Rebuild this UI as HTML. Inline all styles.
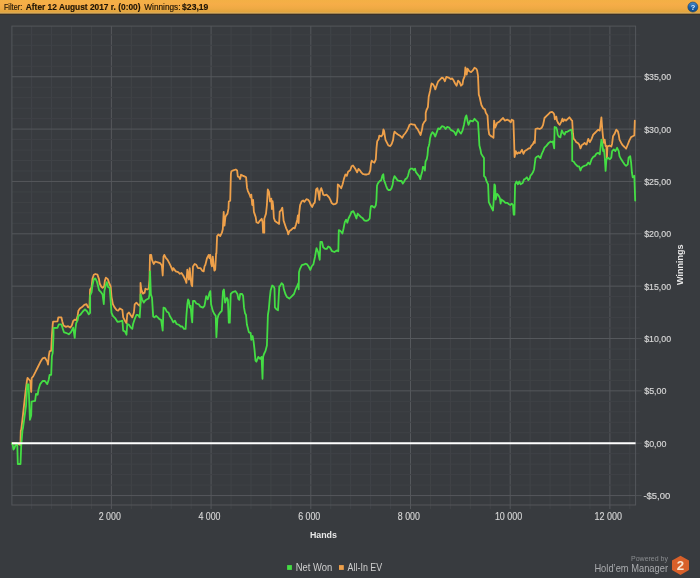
<!DOCTYPE html>
<html><head><meta charset="utf-8"><title>Winnings graph</title>
<style>html,body{margin:0;padding:0;background:#383b3f;width:700px;height:578px;overflow:hidden}svg{display:block}</style>
</head><body>
<svg width="700" height="578" viewBox="0 0 700 578"><rect x="0" y="0" width="700" height="578" fill="#383b3f"/>
<line x1="31.64" y1="26.1" x2="31.64" y2="505.0" stroke="#414448" stroke-width="1"/>
<line x1="51.58" y1="26.1" x2="51.58" y2="505.0" stroke="#414448" stroke-width="1"/>
<line x1="71.52" y1="26.1" x2="71.52" y2="505.0" stroke="#414448" stroke-width="1"/>
<line x1="91.46" y1="26.1" x2="91.46" y2="505.0" stroke="#414448" stroke-width="1"/>
<line x1="111.40" y1="26.1" x2="111.40" y2="505.0" stroke="#55585c" stroke-width="1"/>
<line x1="131.34" y1="26.1" x2="131.34" y2="505.0" stroke="#414448" stroke-width="1"/>
<line x1="151.28" y1="26.1" x2="151.28" y2="505.0" stroke="#414448" stroke-width="1"/>
<line x1="171.22" y1="26.1" x2="171.22" y2="505.0" stroke="#414448" stroke-width="1"/>
<line x1="191.16" y1="26.1" x2="191.16" y2="505.0" stroke="#414448" stroke-width="1"/>
<line x1="211.10" y1="26.1" x2="211.10" y2="505.0" stroke="#55585c" stroke-width="1"/>
<line x1="231.04" y1="26.1" x2="231.04" y2="505.0" stroke="#414448" stroke-width="1"/>
<line x1="250.98" y1="26.1" x2="250.98" y2="505.0" stroke="#414448" stroke-width="1"/>
<line x1="270.92" y1="26.1" x2="270.92" y2="505.0" stroke="#414448" stroke-width="1"/>
<line x1="290.86" y1="26.1" x2="290.86" y2="505.0" stroke="#414448" stroke-width="1"/>
<line x1="310.80" y1="26.1" x2="310.80" y2="505.0" stroke="#55585c" stroke-width="1"/>
<line x1="330.74" y1="26.1" x2="330.74" y2="505.0" stroke="#414448" stroke-width="1"/>
<line x1="350.68" y1="26.1" x2="350.68" y2="505.0" stroke="#414448" stroke-width="1"/>
<line x1="370.62" y1="26.1" x2="370.62" y2="505.0" stroke="#414448" stroke-width="1"/>
<line x1="390.56" y1="26.1" x2="390.56" y2="505.0" stroke="#414448" stroke-width="1"/>
<line x1="410.50" y1="26.1" x2="410.50" y2="505.0" stroke="#55585c" stroke-width="1"/>
<line x1="430.44" y1="26.1" x2="430.44" y2="505.0" stroke="#414448" stroke-width="1"/>
<line x1="450.38" y1="26.1" x2="450.38" y2="505.0" stroke="#414448" stroke-width="1"/>
<line x1="470.32" y1="26.1" x2="470.32" y2="505.0" stroke="#414448" stroke-width="1"/>
<line x1="490.26" y1="26.1" x2="490.26" y2="505.0" stroke="#414448" stroke-width="1"/>
<line x1="510.20" y1="26.1" x2="510.20" y2="505.0" stroke="#55585c" stroke-width="1"/>
<line x1="530.14" y1="26.1" x2="530.14" y2="505.0" stroke="#414448" stroke-width="1"/>
<line x1="550.08" y1="26.1" x2="550.08" y2="505.0" stroke="#414448" stroke-width="1"/>
<line x1="570.02" y1="26.1" x2="570.02" y2="505.0" stroke="#414448" stroke-width="1"/>
<line x1="589.96" y1="26.1" x2="589.96" y2="505.0" stroke="#414448" stroke-width="1"/>
<line x1="609.90" y1="26.1" x2="609.90" y2="505.0" stroke="#55585c" stroke-width="1"/>
<line x1="629.84" y1="26.1" x2="629.84" y2="505.0" stroke="#414448" stroke-width="1"/>
<line x1="11.9" y1="495.55" x2="635.6" y2="495.55" stroke="#55585c" stroke-width="1"/>
<line x1="11.9" y1="485.08" x2="635.6" y2="485.08" stroke="#3f4246" stroke-width="1"/>
<line x1="11.9" y1="474.61" x2="635.6" y2="474.61" stroke="#3f4246" stroke-width="1"/>
<line x1="11.9" y1="464.14" x2="635.6" y2="464.14" stroke="#3f4246" stroke-width="1"/>
<line x1="11.9" y1="453.67" x2="635.6" y2="453.67" stroke="#3f4246" stroke-width="1"/>
<line x1="11.9" y1="443.20" x2="635.6" y2="443.20" stroke="#55585c" stroke-width="1"/>
<line x1="11.9" y1="432.73" x2="635.6" y2="432.73" stroke="#3f4246" stroke-width="1"/>
<line x1="11.9" y1="422.26" x2="635.6" y2="422.26" stroke="#3f4246" stroke-width="1"/>
<line x1="11.9" y1="411.79" x2="635.6" y2="411.79" stroke="#3f4246" stroke-width="1"/>
<line x1="11.9" y1="401.32" x2="635.6" y2="401.32" stroke="#3f4246" stroke-width="1"/>
<line x1="11.9" y1="390.85" x2="635.6" y2="390.85" stroke="#55585c" stroke-width="1"/>
<line x1="11.9" y1="380.38" x2="635.6" y2="380.38" stroke="#3f4246" stroke-width="1"/>
<line x1="11.9" y1="369.91" x2="635.6" y2="369.91" stroke="#3f4246" stroke-width="1"/>
<line x1="11.9" y1="359.44" x2="635.6" y2="359.44" stroke="#3f4246" stroke-width="1"/>
<line x1="11.9" y1="348.97" x2="635.6" y2="348.97" stroke="#3f4246" stroke-width="1"/>
<line x1="11.9" y1="338.50" x2="635.6" y2="338.50" stroke="#55585c" stroke-width="1"/>
<line x1="11.9" y1="328.03" x2="635.6" y2="328.03" stroke="#3f4246" stroke-width="1"/>
<line x1="11.9" y1="317.56" x2="635.6" y2="317.56" stroke="#3f4246" stroke-width="1"/>
<line x1="11.9" y1="307.09" x2="635.6" y2="307.09" stroke="#3f4246" stroke-width="1"/>
<line x1="11.9" y1="296.62" x2="635.6" y2="296.62" stroke="#3f4246" stroke-width="1"/>
<line x1="11.9" y1="286.15" x2="635.6" y2="286.15" stroke="#55585c" stroke-width="1"/>
<line x1="11.9" y1="275.68" x2="635.6" y2="275.68" stroke="#3f4246" stroke-width="1"/>
<line x1="11.9" y1="265.21" x2="635.6" y2="265.21" stroke="#3f4246" stroke-width="1"/>
<line x1="11.9" y1="254.74" x2="635.6" y2="254.74" stroke="#3f4246" stroke-width="1"/>
<line x1="11.9" y1="244.27" x2="635.6" y2="244.27" stroke="#3f4246" stroke-width="1"/>
<line x1="11.9" y1="233.80" x2="635.6" y2="233.80" stroke="#55585c" stroke-width="1"/>
<line x1="11.9" y1="223.33" x2="635.6" y2="223.33" stroke="#3f4246" stroke-width="1"/>
<line x1="11.9" y1="212.86" x2="635.6" y2="212.86" stroke="#3f4246" stroke-width="1"/>
<line x1="11.9" y1="202.39" x2="635.6" y2="202.39" stroke="#3f4246" stroke-width="1"/>
<line x1="11.9" y1="191.92" x2="635.6" y2="191.92" stroke="#3f4246" stroke-width="1"/>
<line x1="11.9" y1="181.45" x2="635.6" y2="181.45" stroke="#55585c" stroke-width="1"/>
<line x1="11.9" y1="170.98" x2="635.6" y2="170.98" stroke="#3f4246" stroke-width="1"/>
<line x1="11.9" y1="160.51" x2="635.6" y2="160.51" stroke="#3f4246" stroke-width="1"/>
<line x1="11.9" y1="150.04" x2="635.6" y2="150.04" stroke="#3f4246" stroke-width="1"/>
<line x1="11.9" y1="139.57" x2="635.6" y2="139.57" stroke="#3f4246" stroke-width="1"/>
<line x1="11.9" y1="129.10" x2="635.6" y2="129.10" stroke="#55585c" stroke-width="1"/>
<line x1="11.9" y1="118.63" x2="635.6" y2="118.63" stroke="#3f4246" stroke-width="1"/>
<line x1="11.9" y1="108.16" x2="635.6" y2="108.16" stroke="#3f4246" stroke-width="1"/>
<line x1="11.9" y1="97.69" x2="635.6" y2="97.69" stroke="#3f4246" stroke-width="1"/>
<line x1="11.9" y1="87.22" x2="635.6" y2="87.22" stroke="#3f4246" stroke-width="1"/>
<line x1="11.9" y1="76.75" x2="635.6" y2="76.75" stroke="#55585c" stroke-width="1"/>
<line x1="11.9" y1="66.28" x2="635.6" y2="66.28" stroke="#3f4246" stroke-width="1"/>
<line x1="11.9" y1="55.81" x2="635.6" y2="55.81" stroke="#3f4246" stroke-width="1"/>
<line x1="11.9" y1="45.34" x2="635.6" y2="45.34" stroke="#3f4246" stroke-width="1"/>
<line x1="11.9" y1="34.87" x2="635.6" y2="34.87" stroke="#3f4246" stroke-width="1"/>
<line x1="31.64" y1="505.0" x2="31.64" y2="509.0" stroke="#414448" stroke-width="1"/>
<line x1="51.58" y1="505.0" x2="51.58" y2="509.0" stroke="#414448" stroke-width="1"/>
<line x1="71.52" y1="505.0" x2="71.52" y2="509.0" stroke="#414448" stroke-width="1"/>
<line x1="91.46" y1="505.0" x2="91.46" y2="509.0" stroke="#414448" stroke-width="1"/>
<line x1="111.40" y1="505.0" x2="111.40" y2="509.0" stroke="#55585c" stroke-width="1"/>
<line x1="131.34" y1="505.0" x2="131.34" y2="509.0" stroke="#414448" stroke-width="1"/>
<line x1="151.28" y1="505.0" x2="151.28" y2="509.0" stroke="#414448" stroke-width="1"/>
<line x1="171.22" y1="505.0" x2="171.22" y2="509.0" stroke="#414448" stroke-width="1"/>
<line x1="191.16" y1="505.0" x2="191.16" y2="509.0" stroke="#414448" stroke-width="1"/>
<line x1="211.10" y1="505.0" x2="211.10" y2="509.0" stroke="#55585c" stroke-width="1"/>
<line x1="231.04" y1="505.0" x2="231.04" y2="509.0" stroke="#414448" stroke-width="1"/>
<line x1="250.98" y1="505.0" x2="250.98" y2="509.0" stroke="#414448" stroke-width="1"/>
<line x1="270.92" y1="505.0" x2="270.92" y2="509.0" stroke="#414448" stroke-width="1"/>
<line x1="290.86" y1="505.0" x2="290.86" y2="509.0" stroke="#414448" stroke-width="1"/>
<line x1="310.80" y1="505.0" x2="310.80" y2="509.0" stroke="#55585c" stroke-width="1"/>
<line x1="330.74" y1="505.0" x2="330.74" y2="509.0" stroke="#414448" stroke-width="1"/>
<line x1="350.68" y1="505.0" x2="350.68" y2="509.0" stroke="#414448" stroke-width="1"/>
<line x1="370.62" y1="505.0" x2="370.62" y2="509.0" stroke="#414448" stroke-width="1"/>
<line x1="390.56" y1="505.0" x2="390.56" y2="509.0" stroke="#414448" stroke-width="1"/>
<line x1="410.50" y1="505.0" x2="410.50" y2="509.0" stroke="#55585c" stroke-width="1"/>
<line x1="430.44" y1="505.0" x2="430.44" y2="509.0" stroke="#414448" stroke-width="1"/>
<line x1="450.38" y1="505.0" x2="450.38" y2="509.0" stroke="#414448" stroke-width="1"/>
<line x1="470.32" y1="505.0" x2="470.32" y2="509.0" stroke="#414448" stroke-width="1"/>
<line x1="490.26" y1="505.0" x2="490.26" y2="509.0" stroke="#414448" stroke-width="1"/>
<line x1="510.20" y1="505.0" x2="510.20" y2="509.0" stroke="#55585c" stroke-width="1"/>
<line x1="530.14" y1="505.0" x2="530.14" y2="509.0" stroke="#414448" stroke-width="1"/>
<line x1="550.08" y1="505.0" x2="550.08" y2="509.0" stroke="#414448" stroke-width="1"/>
<line x1="570.02" y1="505.0" x2="570.02" y2="509.0" stroke="#414448" stroke-width="1"/>
<line x1="589.96" y1="505.0" x2="589.96" y2="509.0" stroke="#414448" stroke-width="1"/>
<line x1="609.90" y1="505.0" x2="609.90" y2="509.0" stroke="#55585c" stroke-width="1"/>
<line x1="629.84" y1="505.0" x2="629.84" y2="509.0" stroke="#414448" stroke-width="1"/>
<line x1="635.6" y1="495.55" x2="641.6" y2="495.55" stroke="#4f5256" stroke-width="1"/>
<line x1="635.6" y1="485.08" x2="639.6" y2="485.08" stroke="#3f4246" stroke-width="1"/>
<line x1="635.6" y1="474.61" x2="639.6" y2="474.61" stroke="#3f4246" stroke-width="1"/>
<line x1="635.6" y1="464.14" x2="639.6" y2="464.14" stroke="#3f4246" stroke-width="1"/>
<line x1="635.6" y1="453.67" x2="639.6" y2="453.67" stroke="#3f4246" stroke-width="1"/>
<line x1="635.6" y1="443.20" x2="641.6" y2="443.20" stroke="#4f5256" stroke-width="1"/>
<line x1="635.6" y1="432.73" x2="639.6" y2="432.73" stroke="#3f4246" stroke-width="1"/>
<line x1="635.6" y1="422.26" x2="639.6" y2="422.26" stroke="#3f4246" stroke-width="1"/>
<line x1="635.6" y1="411.79" x2="639.6" y2="411.79" stroke="#3f4246" stroke-width="1"/>
<line x1="635.6" y1="401.32" x2="639.6" y2="401.32" stroke="#3f4246" stroke-width="1"/>
<line x1="635.6" y1="390.85" x2="641.6" y2="390.85" stroke="#4f5256" stroke-width="1"/>
<line x1="635.6" y1="380.38" x2="639.6" y2="380.38" stroke="#3f4246" stroke-width="1"/>
<line x1="635.6" y1="369.91" x2="639.6" y2="369.91" stroke="#3f4246" stroke-width="1"/>
<line x1="635.6" y1="359.44" x2="639.6" y2="359.44" stroke="#3f4246" stroke-width="1"/>
<line x1="635.6" y1="348.97" x2="639.6" y2="348.97" stroke="#3f4246" stroke-width="1"/>
<line x1="635.6" y1="338.50" x2="641.6" y2="338.50" stroke="#4f5256" stroke-width="1"/>
<line x1="635.6" y1="328.03" x2="639.6" y2="328.03" stroke="#3f4246" stroke-width="1"/>
<line x1="635.6" y1="317.56" x2="639.6" y2="317.56" stroke="#3f4246" stroke-width="1"/>
<line x1="635.6" y1="307.09" x2="639.6" y2="307.09" stroke="#3f4246" stroke-width="1"/>
<line x1="635.6" y1="296.62" x2="639.6" y2="296.62" stroke="#3f4246" stroke-width="1"/>
<line x1="635.6" y1="286.15" x2="641.6" y2="286.15" stroke="#4f5256" stroke-width="1"/>
<line x1="635.6" y1="275.68" x2="639.6" y2="275.68" stroke="#3f4246" stroke-width="1"/>
<line x1="635.6" y1="265.21" x2="639.6" y2="265.21" stroke="#3f4246" stroke-width="1"/>
<line x1="635.6" y1="254.74" x2="639.6" y2="254.74" stroke="#3f4246" stroke-width="1"/>
<line x1="635.6" y1="244.27" x2="639.6" y2="244.27" stroke="#3f4246" stroke-width="1"/>
<line x1="635.6" y1="233.80" x2="641.6" y2="233.80" stroke="#4f5256" stroke-width="1"/>
<line x1="635.6" y1="223.33" x2="639.6" y2="223.33" stroke="#3f4246" stroke-width="1"/>
<line x1="635.6" y1="212.86" x2="639.6" y2="212.86" stroke="#3f4246" stroke-width="1"/>
<line x1="635.6" y1="202.39" x2="639.6" y2="202.39" stroke="#3f4246" stroke-width="1"/>
<line x1="635.6" y1="191.92" x2="639.6" y2="191.92" stroke="#3f4246" stroke-width="1"/>
<line x1="635.6" y1="181.45" x2="641.6" y2="181.45" stroke="#4f5256" stroke-width="1"/>
<line x1="635.6" y1="170.98" x2="639.6" y2="170.98" stroke="#3f4246" stroke-width="1"/>
<line x1="635.6" y1="160.51" x2="639.6" y2="160.51" stroke="#3f4246" stroke-width="1"/>
<line x1="635.6" y1="150.04" x2="639.6" y2="150.04" stroke="#3f4246" stroke-width="1"/>
<line x1="635.6" y1="139.57" x2="639.6" y2="139.57" stroke="#3f4246" stroke-width="1"/>
<line x1="635.6" y1="129.10" x2="641.6" y2="129.10" stroke="#4f5256" stroke-width="1"/>
<line x1="635.6" y1="118.63" x2="639.6" y2="118.63" stroke="#3f4246" stroke-width="1"/>
<line x1="635.6" y1="108.16" x2="639.6" y2="108.16" stroke="#3f4246" stroke-width="1"/>
<line x1="635.6" y1="97.69" x2="639.6" y2="97.69" stroke="#3f4246" stroke-width="1"/>
<line x1="635.6" y1="87.22" x2="639.6" y2="87.22" stroke="#3f4246" stroke-width="1"/>
<line x1="635.6" y1="76.75" x2="641.6" y2="76.75" stroke="#4f5256" stroke-width="1"/>
<line x1="635.6" y1="66.28" x2="639.6" y2="66.28" stroke="#3f4246" stroke-width="1"/>
<line x1="635.6" y1="55.81" x2="639.6" y2="55.81" stroke="#3f4246" stroke-width="1"/>
<line x1="635.6" y1="45.34" x2="639.6" y2="45.34" stroke="#3f4246" stroke-width="1"/>
<line x1="635.6" y1="34.87" x2="639.6" y2="34.87" stroke="#3f4246" stroke-width="1"/>
<rect x="11.9" y="26.1" width="623.70" height="478.90" fill="none" stroke="#54575b" stroke-width="1"/>
<polyline points="11.9,443.5 17.0,443.5 20.4,445.0 20.8,430.4 21.2,430.0 23.0,414.6 25.1,395.6 26.9,380.9 27.5,378.0 28.5,379.0 30.3,380.9 31.2,392.0 31.7,378.0 33.2,376.3 35.6,371.7 37.9,367.0 40.2,362.3 42.6,358.4 44.9,357.6 47.3,361.5 48.0,364.6 48.8,356.0 49.6,351.4 51.2,350.6 51.9,335.8 52.7,324.9 53.1,321.6 57.5,321.4 58.3,317.4 61.4,317.3 62.3,321.4 63.5,325.5 65.9,326.9 68.1,326.2 70.3,327.6 71.8,325.4 73.2,321.0 74.7,319.6 76.2,320.3 77.6,315.9 78.4,310.7 79.9,308.5 82.1,307.1 84.3,304.9 86.5,304.1 87.9,307.1 89.4,307.8 90.1,289.4 91.6,287.2 92.4,279.1 93.8,274.7 95.3,274.0 97.5,274.7 99.0,279.1 99.7,283.5 101.2,286.5 102.6,287.9 104.1,286.5 104.9,280.6 105.9,277.6 107.8,279.1 109.3,283.5 110.7,286.5 111.5,296.8 112.9,304.1 114.4,307.1 116.6,310.0 118.1,310.7 119.9,308.4 122.4,310.0 123.2,317.4 124.9,320.7 126.5,323.2 127.3,314.1 129.0,312.5 130.6,315.0 132.3,317.4 133.9,312.5 134.7,304.3 136.4,302.6 138.0,304.3 139.7,305.9 140.5,302.6 140.5,282.9 141.3,289.5 143.0,293.6 144.6,292.8 145.4,288.7 147.1,289.5 148.7,288.7 149.5,279.6 150.0,254.9 151.2,254.9 152.0,259.9 153.7,264.0 155.3,261.5 157.8,262.3 160.2,263.2 161.9,265.6 162.7,275.5 163.5,256.6 164.3,254.9 166.0,258.2 167.6,259.9 169.3,263.2 170.9,266.4 172.6,270.6 173.3,268.1 175.8,271.4 178.2,272.2 179.9,273.8 181.5,273.0 183.2,275.5 185.6,280.4 186.4,282.9 187.3,269.7 188.1,274.7 188.9,279.6 189.7,268.1 190.6,278.0 191.4,284.5 192.2,286.2 193.0,266.4 194.7,264.0 196.3,264.8 198.0,268.1 200.4,268.1 202.1,270.6 203.7,271.4 204.5,266.4 205.4,264.8 206.2,261.5 207.0,258.2 208.7,254.9 209.5,258.2 210.3,254.9 211.1,263.2 211.9,266.4 212.8,256.6 213.6,264.8 214.4,270.6 215.2,269.7 216.1,253.3 216.4,253.4 217.1,236.1 218.5,234.4 220.2,236.1 221.9,232.7 222.8,229.2 223.7,211.9 224.5,225.7 225.4,217.1 226.2,215.4 227.5,213.6 228.5,208.4 228.8,201.5 230.2,200.7 230.9,173.8 231.4,171.2 233.2,170.4 235.8,169.5 237.1,170.4 237.8,176.4 239.2,177.3 240.1,179.0 241.0,174.7 242.7,175.6 244.4,176.4 246.1,177.3 247.0,187.7 247.9,191.1 249.6,194.6 250.5,197.2 251.3,194.6 252.2,205.0 253.1,199.8 253.9,211.9 255.7,217.1 256.5,222.3 258.3,223.1 260.0,220.6 261.7,218.8 262.6,222.3 263.1,232.7 264.3,232.7 264.3,218.8 266.0,213.6 266.9,205.0 267.8,189.4 269.0,192.0 270.0,201.5 271.3,198.6 271.9,209.0 272.6,201.2 273.2,206.4 273.9,218.1 275.2,221.3 277.1,222.6 279.1,223.9 279.7,211.6 281.0,210.3 282.3,207.7 283.0,214.2 283.6,220.6 284.9,224.5 286.2,228.4 287.5,231.0 288.2,234.3 289.5,231.0 291.4,229.7 293.4,227.8 294.7,228.4 296.0,224.5 297.3,219.4 297.9,215.5 298.6,223.2 299.2,212.9 300.1,205.1 301.8,201.2 303.1,200.5 304.4,201.8 306.4,199.2 308.3,199.9 309.6,201.8 310.9,205.1 312.2,207.0 313.5,203.8 314.8,202.5 315.5,196.0 316.1,189.5 317.4,188.2 318.7,194.7 319.4,199.9 320.0,191.4 321.3,188.2 322.6,192.1 323.2,194.7 324.5,195.3 326.5,194.7 327.8,196.0 329.1,197.3 330.4,199.9 331.7,203.1 333.6,204.4 335.6,203.8 336.9,202.5 337.5,196.0 337.8,184.3 339.1,185.5 341.2,188.3 342.6,184.2 344.0,178.6 345.4,174.5 346.8,175.9 348.1,171.7 350.2,170.3 351.6,166.2 353.0,165.5 354.4,167.6 355.7,169.6 357.1,172.4 358.5,168.9 359.9,170.3 361.3,172.4 362.7,173.8 364.7,174.5 366.8,174.5 368.9,173.8 370.3,170.3 371.0,163.4 371.7,160.6 373.0,162.0 374.4,162.7 375.8,159.3 376.5,148.2 377.2,141.3 378.6,139.2 379.3,135.7 381.3,136.4 382.7,134.4 383.4,129.5 384.1,130.9 384.8,135.7 385.5,139.9 386.9,142.7 388.3,145.4 390.3,146.1 391.7,144.0 393.1,139.9 393.8,134.4 394.5,131.6 395.9,133.0 397.9,134.4 400.0,135.7 402.2,137.9 403.7,135.0 405.1,133.5 406.6,131.3 408.1,128.4 409.6,124.7 411.0,124.0 413.2,124.7 414.7,124.7 416.2,127.6 417.6,129.1 419.1,132.1 420.6,135.0 422.1,129.1 422.8,124.7 424.3,121.8 425.7,120.3 425.7,112.9 426.5,110.0 427.9,107.1 428.7,96.8 430.1,90.9 430.9,86.5 431.6,83.5 433.1,84.3 434.6,87.2 435.3,89.4 436.8,85.0 438.2,81.3 439.7,79.9 441.9,77.6 443.4,78.4 444.9,81.3 446.3,76.9 448.5,77.6 450.7,79.1 452.2,78.4 453.7,80.6 455.1,83.5 456.6,85.7 458.1,80.6 459.6,82.1 461.0,85.7 462.5,84.3 463.2,79.9 464.7,76.2 465.4,67.4 466.2,70.4 466.7,74.7 467.6,68.7 469.3,71.2 471.1,72.1 472.8,70.4 474.5,67.8 476.2,68.7 477.1,70.4 478.0,75.6 478.8,94.6 479.7,97.2 480.6,101.5 481.4,105.0 483.2,108.4 484.9,109.3 485.8,112.8 487.5,115.4 488.4,129.2 489.2,134.4 491.0,136.1 492.7,137.0 493.5,137.9 494.1,120.6 495.3,127.5 497.0,123.1 499.6,121.4 501.3,119.7 503.1,118.0 504.8,120.6 507.4,119.7 509.1,120.6 510.8,122.3 511.7,119.7 513.4,120.6 514.0,137.9 514.6,157.0 515.8,151.1 517.2,153.8 518.6,152.4 520.0,153.1 522.0,149.7 523.4,153.8 524.8,151.1 526.9,149.7 528.9,148.3 530.0,148.4 531.4,145.6 532.8,144.3 534.1,141.5 534.8,142.9 535.5,129.0 537.6,128.4 539.7,129.0 541.8,127.7 543.1,124.9 544.5,118.0 546.6,115.9 548.7,113.8 550.1,112.4 552.1,111.8 553.5,113.1 554.2,114.5 554.9,119.4 556.3,116.6 557.0,120.7 558.4,123.5 559.7,124.9 561.1,122.1 562.5,118.7 563.2,121.4 564.6,119.4 566.0,120.7 567.3,119.4 569.4,117.3 571.5,120.1 572.2,120.7 572.9,133.2 573.6,138.7 575.0,140.1 576.3,142.2 577.7,142.9 579.1,144.3 580.5,148.4 581.9,145.0 583.2,144.3 584.6,142.9 586.0,144.3 586.6,144.5 588.3,138.8 589.9,142.1 591.6,138.8 593.2,134.7 594.9,133.0 596.5,131.4 598.2,129.7 599.8,130.6 601.4,117.4 602.3,129.7 603.1,138.0 603.9,142.9 604.7,139.6 605.6,146.2 606.4,146.0 606.9,158.4 607.5,146.3 609.7,145.7 611.3,146.5 612.1,143.7 613.0,136.3 614.6,133.8 616.3,129.7 617.9,131.4 618.7,134.7 619.5,139.6 621.2,142.9 622.8,145.4 624.5,147.0 626.1,148.7 627.8,144.5 629.4,140.4 631.1,137.1 632.7,136.3 634.3,135.5 634.8,120.7" fill="none" stroke="#eea04a" stroke-width="1.8" stroke-linejoin="round" stroke-linecap="round"/>
<polyline points="11.9,443.5 12.6,444.4 13.5,449.6 14.5,448.0 15.5,445.0 17.3,445.0 17.8,464.0 20.5,464.0 21.2,446.0 22.5,430.0 23.0,428.0 26.0,406.0 27.3,384.3 28.6,384.5 29.9,419.8 31.2,415.5 31.6,401.6 35.1,400.8 36.0,393.8 37.7,394.7 38.5,389.5 40.2,384.1 42.6,381.0 44.9,381.0 47.3,384.1 48.8,379.4 49.6,374.8 51.2,374.8 51.9,356.1 52.7,353.0 53.5,335.8 53.5,328.0 57.5,327.8 58.8,324.3 61.4,324.3 62.7,328.4 64.0,332.3 65.2,332.7 67.5,333.5 68.8,334.3 71.0,332.1 73.2,327.6 74.7,337.9 75.4,329.1 76.2,323.2 77.6,320.3 78.4,315.9 80.6,314.4 82.8,311.5 85.0,309.3 87.2,311.5 88.7,314.4 90.1,312.9 90.1,295.3 91.6,292.4 92.4,285.7 93.8,279.1 95.3,278.4 96.8,281.3 98.0,285.7 99.0,290.1 101.2,292.4 102.6,294.6 103.8,304.1 104.4,290.9 105.6,285.7 106.8,282.1 108.2,287.2 109.7,287.9 110.7,301.2 111.5,312.9 112.9,315.9 115.1,318.1 117.4,321.8 119.9,321.5 122.4,320.7 123.2,330.6 124.9,331.4 126.5,334.7 127.3,324.0 129.0,324.8 130.6,327.3 132.3,328.9 133.1,324.0 134.7,319.1 136.4,315.0 138.0,315.0 139.7,317.4 140.5,304.3 140.5,294.4 142.1,299.3 143.8,302.6 145.4,300.2 147.1,299.3 148.7,298.5 149.5,294.4 150.0,271.4 150.9,294.4 152.0,297.7 153.2,316.6 154.5,317.4 156.1,315.8 157.8,317.4 159.4,319.1 161.1,319.9 162.7,330.6 163.5,307.6 165.2,308.4 166.8,311.7 168.5,312.5 170.1,316.6 171.7,319.1 173.3,322.4 174.9,320.7 176.6,324.0 179.0,324.8 180.7,326.5 182.3,326.5 184.0,328.9 185.6,328.9 186.4,315.8 187.3,304.3 188.1,299.3 188.9,301.0 189.7,307.6 190.6,305.9 191.4,315.8 192.2,322.4 193.0,301.0 194.7,301.0 196.3,303.5 198.8,304.3 200.4,306.7 202.9,307.6 204.5,305.9 206.2,296.1 207.8,299.3 209.5,292.8 210.3,291.1 211.1,304.3 212.8,310.9 214.4,314.1 215.7,315.8 216.4,337.2 217.4,319.1 218.5,315.0 220.2,312.5 221.8,310.9 223.0,291.1 223.9,289.5 225.1,302.6 226.9,297.9 227.9,299.8 228.8,322.6 229.8,322.6 230.7,294.0 232.6,292.1 235.5,291.2 237.4,294.0 238.3,298.8 239.3,299.8 240.2,294.0 242.1,294.0 243.1,296.0 244.0,307.4 245.0,313.1 246.0,315.0 246.9,324.5 247.9,328.3 248.8,332.1 250.7,333.1 251.3,339.8 252.6,336.0 253.6,341.7 254.5,349.3 255.5,360.7 256.4,361.7 258.3,356.9 260.2,358.8 261.6,356.9 262.5,378.8 263.1,356.9 264.0,354.0 265.4,351.2 266.9,345.5 267.9,315.0 268.8,309.3 269.8,297.9 270.7,290.2 272.2,285.5 273.6,286.4 274.5,288.3 274.9,307.4 276.4,309.3 278.0,310.2 279.3,286.4 280.0,286.2 281.6,283.1 283.1,284.6 283.9,289.3 285.4,294.0 287.0,297.1 289.3,298.6 291.7,296.3 294.0,294.0 295.6,289.3 297.1,286.2 298.4,283.1 298.7,289.3 299.0,272.2 299.9,269.1 301.8,265.2 304.1,264.4 305.7,263.7 307.2,264.4 308.8,266.8 310.3,269.9 311.9,266.0 313.4,264.4 315.0,256.7 316.5,248.1 318.1,252.0 319.7,259.8 320.4,241.9 322.0,241.9 323.2,247.3 325.1,248.9 326.7,248.9 328.2,246.5 329.8,247.3 332.1,251.2 334.4,252.0 336.8,250.4 338.3,251.2 338.8,230.2 340.0,230.6 341.2,231.8 342.4,233.6 343.6,228.2 344.8,222.1 346.1,219.7 347.3,222.7 348.5,218.5 350.3,214.8 351.5,211.8 353.3,211.2 354.5,213.6 356.4,218.5 357.6,213.6 358.8,214.8 360.6,216.7 362.4,217.9 364.2,220.3 366.1,220.9 367.9,220.3 369.7,218.5 370.3,211.2 370.9,206.4 372.1,205.8 373.3,207.0 374.5,207.6 375.8,205.2 376.4,200.3 377.0,185.8 377.6,183.9 378.8,182.1 380.0,180.9 381.2,180.3 382.4,175.5 383.3,174.2 383.9,179.7 384.8,182.1 386.1,185.8 387.3,188.8 388.5,190.0 390.3,190.0 391.5,188.2 392.7,184.5 393.3,179.7 394.5,176.1 395.8,177.9 397.6,180.4 399.5,181.0 401.5,181.0 402.8,183.6 404.1,181.7 405.4,179.1 406.7,178.4 408.0,175.8 409.3,170.6 410.6,168.7 412.5,168.7 413.8,170.0 415.1,168.7 415.8,171.9 417.7,174.5 419.0,175.8 420.3,179.1 421.0,175.8 422.3,171.3 422.9,166.8 424.2,167.4 424.9,170.6 425.5,161.6 426.8,159.0 427.5,155.1 428.1,147.9 428.8,146.0 429.4,143.4 430.1,138.2 430.9,135.0 432.4,132.1 433.8,133.5 435.3,136.5 436.8,132.1 438.2,128.4 439.7,129.1 441.9,126.2 444.1,126.9 445.6,129.1 447.1,126.9 449.3,127.6 450.7,129.9 452.2,130.6 454.4,132.1 455.9,135.0 458.1,129.1 459.6,132.1 461.0,133.5 462.5,130.6 464.0,124.7 465.4,117.4 466.4,115.4 467.6,121.4 468.5,124.9 470.2,120.6 472.8,121.4 474.5,118.8 476.2,120.6 478.0,122.3 478.8,134.4 479.4,145.5 480.5,149.7 481.2,153.8 482.6,155.9 484.0,158.0 484.0,176.0 485.4,177.3 486.1,180.1 487.4,182.9 488.1,184.3 488.8,202.2 490.2,205.0 491.6,207.8 493.0,210.5 493.7,200.9 494.4,184.3 495.1,185.6 495.7,199.5 497.1,193.9 498.5,195.3 499.9,198.1 500.6,203.6 501.3,199.5 503.4,200.9 505.4,202.9 507.5,202.9 508.9,204.3 510.3,205.0 511.7,203.6 513.0,205.0 513.7,214.7 514.4,214.7 515.1,184.3 516.5,181.5 517.9,184.3 519.3,181.5 520.6,184.3 522.7,182.9 524.1,179.4 525.5,178.7 526.9,177.3 528.3,180.1 529.6,178.7 530.5,175.5 531.4,174.7 532.8,172.6 534.1,169.2 535.5,158.1 536.9,156.7 538.3,156.0 540.4,158.1 541.8,153.9 543.1,151.2 544.5,147.7 546.6,145.6 548.7,142.9 550.7,141.5 552.1,142.2 552.8,141.5 554.2,148.4 554.6,127.0 556.3,127.7 557.0,129.7 557.7,134.6 559.0,136.7 560.4,137.3 561.8,130.4 563.2,133.2 564.6,134.6 565.7,131.8 567.3,131.8 569.4,130.4 571.5,129.7 572.2,136.0 572.2,160.9 573.6,161.5 575.0,163.6 576.3,165.0 577.7,166.4 579.1,166.4 580.5,170.5 581.5,167.8 583.2,166.4 585.3,165.5 586.6,165.1 588.3,162.6 589.9,164.3 591.6,159.3 593.2,156.9 594.9,156.1 596.5,153.6 598.2,152.8 599.8,154.4 601.4,139.6 602.3,142.9 603.1,151.1 603.9,149.5 604.7,156.1 605.6,170.9 606.4,159.3 608.0,157.7 609.7,159.3 611.3,157.7 612.1,151.1 613.8,149.5 615.4,151.1 617.1,147.8 618.7,151.1 619.5,156.1 621.2,159.3 622.8,161.8 624.5,164.3 626.1,165.9 627.8,164.3 628.6,157.7 630.2,156.1 631.1,162.6 631.9,172.5 632.7,177.4 634.3,175.8 635.2,200.5" fill="none" stroke="#44dd44" stroke-width="1.8" stroke-linejoin="round" stroke-linecap="round"/>
<line x1="11.9" y1="443.2" x2="635.6" y2="443.2" stroke="#ffffff" stroke-width="2"/>
<text x="643.4" y="499.1" font-family="Liberation Sans, Arial, sans-serif" font-size="9.6" fill="#d6d6d6" stroke="#d6d6d6" stroke-width="0.18" textLength="26.9" lengthAdjust="spacingAndGlyphs">-$5,00</text>
<text x="644.2" y="446.7" font-family="Liberation Sans, Arial, sans-serif" font-size="9.6" fill="#d6d6d6" stroke="#d6d6d6" stroke-width="0.18" textLength="22.3" lengthAdjust="spacingAndGlyphs">$0,00</text>
<text x="644.2" y="394.3" font-family="Liberation Sans, Arial, sans-serif" font-size="9.6" fill="#d6d6d6" stroke="#d6d6d6" stroke-width="0.18" textLength="22.3" lengthAdjust="spacingAndGlyphs">$5,00</text>
<text x="644.2" y="342.0" font-family="Liberation Sans, Arial, sans-serif" font-size="9.6" fill="#d6d6d6" stroke="#d6d6d6" stroke-width="0.18" textLength="26.9" lengthAdjust="spacingAndGlyphs">$10,00</text>
<text x="644.2" y="289.6" font-family="Liberation Sans, Arial, sans-serif" font-size="9.6" fill="#d6d6d6" stroke="#d6d6d6" stroke-width="0.18" textLength="26.9" lengthAdjust="spacingAndGlyphs">$15,00</text>
<text x="644.2" y="237.3" font-family="Liberation Sans, Arial, sans-serif" font-size="9.6" fill="#d6d6d6" stroke="#d6d6d6" stroke-width="0.18" textLength="26.9" lengthAdjust="spacingAndGlyphs">$20,00</text>
<text x="644.2" y="184.9" font-family="Liberation Sans, Arial, sans-serif" font-size="9.6" fill="#d6d6d6" stroke="#d6d6d6" stroke-width="0.18" textLength="26.9" lengthAdjust="spacingAndGlyphs">$25,00</text>
<text x="644.2" y="132.6" font-family="Liberation Sans, Arial, sans-serif" font-size="9.6" fill="#d6d6d6" stroke="#d6d6d6" stroke-width="0.18" textLength="26.9" lengthAdjust="spacingAndGlyphs">$30,00</text>
<text x="644.2" y="80.2" font-family="Liberation Sans, Arial, sans-serif" font-size="9.6" fill="#d6d6d6" stroke="#d6d6d6" stroke-width="0.18" textLength="26.9" lengthAdjust="spacingAndGlyphs">$35,00</text>
<text x="109.8" y="519.6" font-family="Liberation Sans, Arial, sans-serif" font-size="10.3" fill="#d6d6d6" stroke="#d6d6d6" stroke-width="0.15" text-anchor="middle" textLength="22.1" lengthAdjust="spacingAndGlyphs">2 000</text>
<text x="209.5" y="519.6" font-family="Liberation Sans, Arial, sans-serif" font-size="10.3" fill="#d6d6d6" stroke="#d6d6d6" stroke-width="0.15" text-anchor="middle" textLength="22.1" lengthAdjust="spacingAndGlyphs">4 000</text>
<text x="309.2" y="519.6" font-family="Liberation Sans, Arial, sans-serif" font-size="10.3" fill="#d6d6d6" stroke="#d6d6d6" stroke-width="0.15" text-anchor="middle" textLength="22.1" lengthAdjust="spacingAndGlyphs">6 000</text>
<text x="408.9" y="519.6" font-family="Liberation Sans, Arial, sans-serif" font-size="10.3" fill="#d6d6d6" stroke="#d6d6d6" stroke-width="0.15" text-anchor="middle" textLength="22.1" lengthAdjust="spacingAndGlyphs">8 000</text>
<text x="508.6" y="519.6" font-family="Liberation Sans, Arial, sans-serif" font-size="10.3" fill="#d6d6d6" stroke="#d6d6d6" stroke-width="0.15" text-anchor="middle" textLength="27.4" lengthAdjust="spacingAndGlyphs">10 000</text>
<text x="608.3" y="519.6" font-family="Liberation Sans, Arial, sans-serif" font-size="10.3" fill="#d6d6d6" stroke="#d6d6d6" stroke-width="0.15" text-anchor="middle" textLength="27.4" lengthAdjust="spacingAndGlyphs">12 000</text>
<text x="323.4" y="537.9" font-family="Liberation Sans, Arial, sans-serif" font-size="9" font-weight="bold" fill="#e8e8e8" text-anchor="middle" textLength="27" lengthAdjust="spacingAndGlyphs">Hands</text>
<text transform="translate(683.3,264.8) rotate(-90)" x="0" y="0" font-family="Liberation Sans, Arial, sans-serif" font-size="9" font-weight="bold" fill="#e8e8e8" text-anchor="middle" textLength="40.4" lengthAdjust="spacingAndGlyphs">Winnings</text>
<rect x="287.1" y="565.1" width="4.8" height="4.8" fill="#44dd44"/>
<text x="295.7" y="570.9" font-family="Liberation Sans, Arial, sans-serif" font-size="10.2" fill="#cfcfcf" textLength="36.5" lengthAdjust="spacingAndGlyphs">Net Won</text>
<rect x="339" y="565.1" width="4.8" height="4.8" fill="#eea04a"/>
<text x="347.6" y="570.9" font-family="Liberation Sans, Arial, sans-serif" font-size="10.2" fill="#cfcfcf" textLength="34.6" lengthAdjust="spacingAndGlyphs">All-In EV</text>
<text x="668" y="561" font-family="Liberation Sans, Arial, sans-serif" font-size="8" fill="#8a8d90" text-anchor="end" textLength="37" lengthAdjust="spacingAndGlyphs">Powered by</text>
<text x="668" y="571.8" font-family="Liberation Sans, Arial, sans-serif" font-size="10.3" fill="#a9abae" text-anchor="end" textLength="73.6" lengthAdjust="spacingAndGlyphs">Hold’em Manager</text>
<polygon points="680.5,555.7 672.0,560.5 672.0,570.1 680.5,574.9 689.0,570.1 689.0,560.5" fill="#d8602a"/>
<text x="680.4" y="569.6" font-family="Liberation Sans, Arial, sans-serif" font-size="12.2" font-weight="bold" fill="#f8e6d2" text-anchor="middle" textLength="7.4" lengthAdjust="spacingAndGlyphs">2</text>
<defs><linearGradient id="hg" x1="0" y1="0" x2="0" y2="1"><stop offset="0" stop-color="#f3b045"/><stop offset="0.3" stop-color="#f6ad48"/><stop offset="0.6" stop-color="#efaa44"/><stop offset="0.85" stop-color="#e2a43d"/><stop offset="0.93" stop-color="#dcac58"/><stop offset="1" stop-color="#dcac58"/></linearGradient></defs>
<rect x="0" y="0" width="700" height="13.8" fill="url(#hg)"/>
<rect x="0" y="13.8" width="700" height="1.1" fill="#3a3027"/>
<text x="3.9" y="9.8" font-family="Liberation Sans, Arial, sans-serif" font-size="8.2" fill="#1e1406" stroke="#1e1406" stroke-width="0.15" textLength="18.3" lengthAdjust="spacingAndGlyphs">Filter:</text>
<text x="25.8" y="9.8" font-family="Liberation Sans, Arial, sans-serif" font-size="8.2" fill="#1e1406" stroke="#1e1406" stroke-width="0.15" font-weight="bold" textLength="114.7" lengthAdjust="spacingAndGlyphs">After 12 August 2017 r. (0:00)</text>
<text x="144.3" y="9.8" font-family="Liberation Sans, Arial, sans-serif" font-size="8.2" fill="#1e1406" stroke="#1e1406" stroke-width="0.15" textLength="36.2" lengthAdjust="spacingAndGlyphs">Winnings:</text>
<text x="182.1" y="9.8" font-family="Liberation Sans, Arial, sans-serif" font-size="8.2" fill="#1e1406" stroke="#1e1406" stroke-width="0.15" font-weight="bold" textLength="26.3" lengthAdjust="spacingAndGlyphs">$23,19</text>
<defs><linearGradient id="hb" x1="0" y1="0" x2="0" y2="1"><stop offset="0" stop-color="#4a88c4"/><stop offset="0.5" stop-color="#1d62aa"/><stop offset="1" stop-color="#0c4684"/></linearGradient></defs>
<circle cx="692.85" cy="7.05" r="5.0" fill="url(#hb)" stroke="#1c3f5e" stroke-width="0.6"/>
<text x="693.0" y="9.5" font-family="Liberation Sans, Arial, sans-serif" font-size="7.4" font-weight="bold" fill="#d8ecff" text-anchor="middle">?</text></svg>
</body></html>
